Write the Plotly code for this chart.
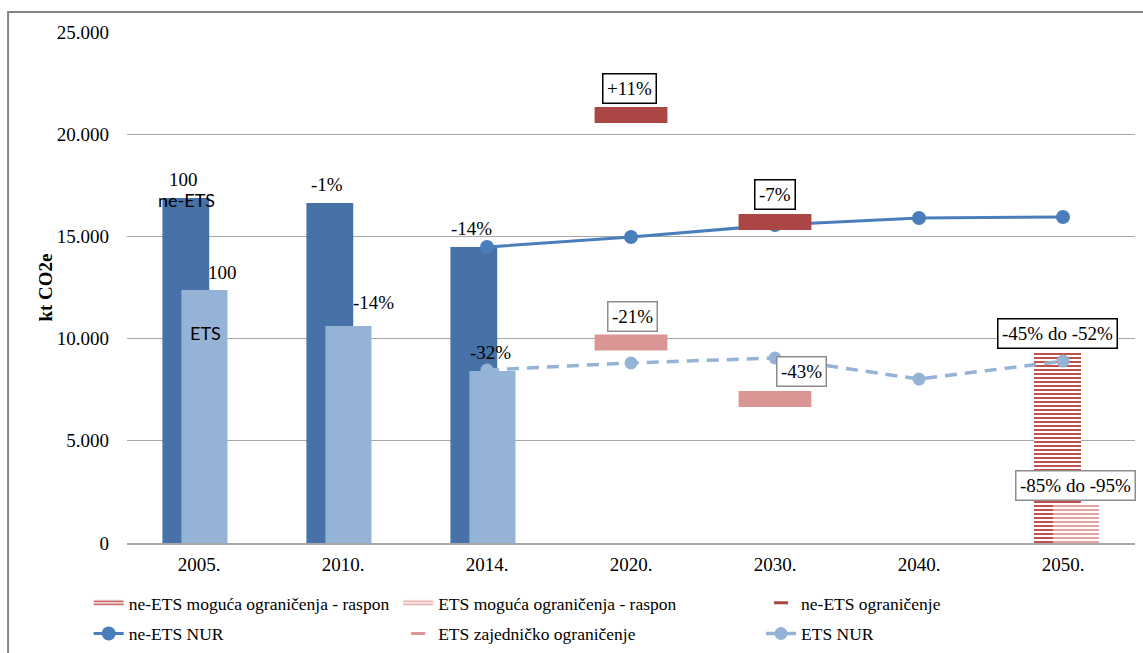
import plotly.graph_objects as go

categories = ["2005.", "2010.", "2014.", "2020.", "2030.", "2040.", "2050."]
y_tickvals = [0, 5000, 10000, 15000, 20000, 25000]
y_ticktext = ["0", "5.000", "10.000", "15.000", "20.000", "25.000"]

# historic emissions (kt CO2e)
ne_ets_hist = [16880, 16630, 14480, None, None, None, None]
ets_hist = [12380, 10620, 8410, None, None, None, None]
# projections (NUR)
ne_ets_nur = [None, None, 14480, 14970, 15560, 15900, 15950]
ets_nur = [None, None, 8460, 8810, 9050, 8020, 8900]
# limits
ne_ets_limit = [None, None, None, 20940, 15700, None, None]
ets_limit = [None, None, None, 9810, 7045, None, None]
# possible limit ranges 2050
ne_ets_range = [None, None, None, None, None, None, 9290]
ets_range = [None, None, None, None, None, None, 1860]

SERIF = "Liberation Serif"
DARK = "#4672A8"
LIGHT = "#95B3D7"
LINE_DARK = "#4A7EBB"
RED = "#AA4643"
PINK = "#DA9694"
HATCH_RED = "#C0504D"
HATCH_PINK = "#E3A3A1"

fig = go.Figure()

# bars (no legend)
fig.add_trace(go.Bar(x=categories, y=ne_ets_hist, width=0.325, offset=-0.254,
                     marker=dict(color=DARK, line=dict(width=0)), showlegend=False,
                     hoverinfo="skip"))
fig.add_trace(go.Bar(x=categories, y=ets_hist, width=0.32, offset=-0.122,
                     marker=dict(color=LIGHT, line=dict(width=0)), showlegend=False,
                     hoverinfo="skip"))

# hatched ranges
fig.add_trace(go.Bar(x=categories, y=ne_ets_range, width=0.326, offset=-0.201,
                     name="ne-ETS moguća ograničenja - raspon",
                     marker=dict(color="white", line=dict(width=0),
                                 pattern=dict(shape="-", fgcolor=HATCH_RED, bgcolor="white",
                                              size=4, solidity=0.5, fillmode="replace")),
                     showlegend=False, hoverinfo="skip"))
fig.add_trace(go.Bar(x=categories, y=ets_range, width=0.32, offset=-0.069,
                     name="ETS moguća ograničenja - raspon",
                     marker=dict(color="white", line=dict(width=0),
                                 pattern=dict(shape="-", fgcolor=HATCH_PINK, bgcolor="white",
                                              size=4, solidity=0.5, fillmode="replace")),
                     showlegend=False, hoverinfo="skip"))

# NUR lines
fig.add_trace(go.Scatter(x=categories, y=ne_ets_nur, mode="lines+markers",
                         name="ne-ETS NUR",
                         line=dict(color=LINE_DARK, width=3),
                         marker=dict(size=14, color=LINE_DARK),
                         legend="legend", legendgroup="c", legendrank=2, hoverinfo="skip"))
fig.add_trace(go.Scatter(x=categories, y=ets_nur, mode="lines+markers",
                         name="ETS NUR",
                         line=dict(color=LIGHT, width=3.5, dash="12px,8px"),
                         marker=dict(size=13, color=LIGHT),
                         legend="legend3", legendgroup="d", legendrank=2, hoverinfo="skip"))

# limit markers
fig.add_trace(go.Scatter(x=categories, y=ne_ets_limit, mode="markers",
                         name="ne-ETS ograničenje",
                         marker=dict(symbol="line-ew", size=52,
                                     line=dict(color=RED, width=16)),
                         showlegend=False, hoverinfo="skip"))
fig.add_trace(go.Scatter(x=categories, y=ets_limit, mode="markers",
                         name="ETS zajedničko ograničenje",
                         marker=dict(symbol="line-ew", size=52,
                                     line=dict(color=PINK, width=16)),
                         showlegend=False, hoverinfo="skip"))

# legend-only entries (no data drawn) with Excel-like legend keys
fig.add_trace(go.Scatter(x=[None], y=[None], mode="none", fill="toself",
                         name="ne-ETS moguća ograničenja - raspon",
                         fillcolor="white",
                         fillpattern=dict(shape="-", fgcolor=HATCH_RED, bgcolor="white",
                                          size=3, solidity=0.5, fillmode="replace"),
                         legend="legend", legendgroup="a", legendrank=1, hoverinfo="skip"))
fig.add_trace(go.Scatter(x=[None], y=[None], mode="none", fill="toself",
                         name="ETS moguća ograničenja - raspon",
                         fillcolor="white",
                         fillpattern=dict(shape="-", fgcolor=HATCH_PINK, bgcolor="white",
                                          size=3, solidity=0.5, fillmode="replace"),
                         legend="legend2", legendgroup="b", legendrank=1, hoverinfo="skip"))
fig.add_trace(go.Scatter(x=[None], y=[None], mode="markers",
                         name="ne-ETS ograničenje",
                         marker=dict(symbol="line-ew", size=10, line=dict(color=RED, width=3)),
                         legend="legend3", legendgroup="e", legendrank=1, hoverinfo="skip"))
fig.add_trace(go.Scatter(x=[None], y=[None], mode="markers",
                         name="ETS zajedničko ograničenje",
                         marker=dict(symbol="line-ew", size=10, line=dict(color=PINK, width=3)),
                         legend="legend2", legendgroup="f", legendrank=2, hoverinfo="skip"))

# annotations
FS = 19
def plain(text, x, y, family=SERIF, size=FS):
    return dict(text=text, x=x, y=y, xref="x", yref="y", showarrow=False,
                font=dict(family=family, size=size, color="black"),
                xanchor="center", yanchor="middle")

def boxed(text, x, y, border):
    d = plain(text, x, y)
    d.update(bordercolor=border, borderwidth=1.5, borderpad=3.5, bgcolor="white")
    return d

annotations = [
    plain("100", -0.111, 17760),
    plain("ne-ETS", -0.09, 16780, family="Lato", size=18),
    plain("100", 0.16, 13210),
    plain("ETS", 0.042, 10270, family="Lato", size=18),
    plain("-1%", 0.889, 17560),
    plain("-14%", 1.215, 11790),
    plain("-14%", 1.889, 15410),
    plain("-32%", 2.021, 9340),
    boxed("+11%", 2.99, 22260, "black"),
    boxed("-7%", 4.003, 17050, "black"),
    boxed("-21%", 3.007, 11080, "#8c8c8c"),
    boxed("-43%", 4.184, 8415, "#8c8c8c"),
    boxed("-45% do -52%", 5.962, 10250, "black"),
    boxed("-85% do -95%", 6.087, 2813, "#8c8c8c"),
    dict(text="<b>kt CO2e</b>", x=-0.0813, y=0.5, xref="paper", yref="paper",
         showarrow=False, textangle=-90, xanchor="center", yanchor="middle",
         font=dict(family=SERIF, size=19, color="black")),
]

legend_common = dict(orientation="v", yanchor="top", xanchor="left",
                     bgcolor="rgba(0,0,0,0)", tracegroupgap=5,
                     traceorder="grouped", itemwidth=30,
                     font=dict(family=SERIF, size=17.5, color="black"))

fig.update_layout(
    width=1143, height=653,
    margin=dict(l=127, r=8, t=32, b=110, autoexpand=False),
    paper_bgcolor="white", plot_bgcolor="white",
    barmode="overlay",
    showlegend=True,
    legend=dict(x=-0.038, y=-0.082, **legend_common),
    legend2=dict(x=0.269, y=-0.082, **legend_common),
    legend3=dict(x=0.629, y=-0.082, **legend_common),
    xaxis=dict(type="category", categoryorder="array", categoryarray=categories,
               range=[-0.5, 6.5], showgrid=False, showline=True, linecolor="#a6a6a6",
               linewidth=1.5, ticks="", ticklabelstandoff=3,
               tickfont=dict(family=SERIF, size=19, color="black")),
    yaxis=dict(range=[0, 25000], tickvals=y_tickvals, ticktext=y_ticktext,
               showgrid=True, gridcolor="#a6a6a6", gridwidth=1.2, zeroline=False,
               showline=False, ticks="", ticklabelstandoff=17,
               tickfont=dict(family=SERIF, size=19, color="black")),
    annotations=annotations,
    shapes=[dict(type="rect", xref="paper", yref="paper",
                 x0=-0.118, x1=1.05, y0=-0.3, y1=1.039,
                 line=dict(color="#868686", width=2), fillcolor="rgba(0,0,0,0)",
                 layer="below")],
)

fig.write_html("out.html", config={"displayModeBar": False})

# remove the default page margin so the figure fills the window exactly
with open("out.html", "r", encoding="utf-8") as f:
    html = f.read()
html = html.replace("<body>", '<body style="margin:0;padding:0;overflow:hidden">', 1)
with open("out.html", "w", encoding="utf-8") as f:
    f.write(html)
